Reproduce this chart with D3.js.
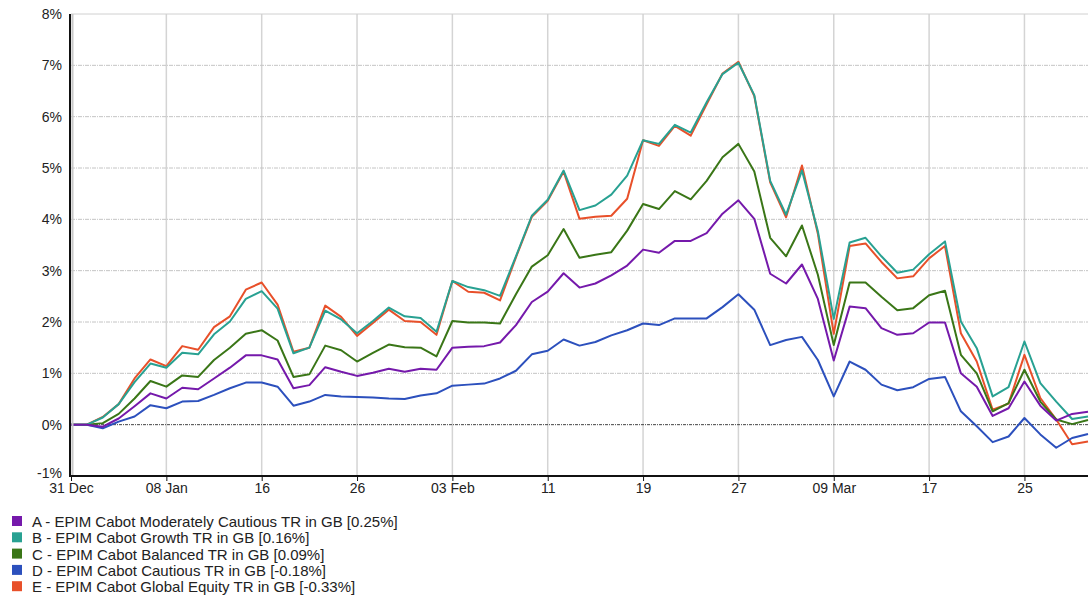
<!DOCTYPE html>
<html>
<head>
<meta charset="utf-8">
<script src="https://cdn.jsdelivr.net/npm/d3@7"></script>
<style>
	body { margin: 0; background: #fff; }
	svg { display: block; font-family: "Liberation Sans", Arial, sans-serif; }
	.tick-label { font-size: 14px; fill: #222; }
	.legend text { font-size: 15px; fill: #222; }
</style>
</head>
<body>
<svg width="1092" height="597"></svg>
<script>
// trading days, 31 Dec 2014 .. 31 Mar 2015
const dates = [
	'2014-12-31', '2015-01-01', '2015-01-02', '2015-01-05', '2015-01-06', '2015-01-07',
	'2015-01-08', '2015-01-09', '2015-01-12', '2015-01-13', '2015-01-14', '2015-01-15',
	'2015-01-16', '2015-01-19', '2015-01-20', '2015-01-21', '2015-01-22', '2015-01-23',
	'2015-01-26', '2015-01-27', '2015-01-28', '2015-01-29', '2015-01-30', '2015-02-02',
	'2015-02-03', '2015-02-04', '2015-02-05', '2015-02-06', '2015-02-09', '2015-02-10',
	'2015-02-11', '2015-02-12', '2015-02-13', '2015-02-16', '2015-02-17', '2015-02-18',
	'2015-02-19', '2015-02-20', '2015-02-23', '2015-02-24', '2015-02-25', '2015-02-26',
	'2015-02-27', '2015-03-02', '2015-03-03', '2015-03-04', '2015-03-05', '2015-03-06',
	'2015-03-09', '2015-03-10', '2015-03-11', '2015-03-12', '2015-03-13', '2015-03-16',
	'2015-03-17', '2015-03-18', '2015-03-19', '2015-03-20', '2015-03-23', '2015-03-24',
	'2015-03-25', '2015-03-26', '2015-03-27', '2015-03-30', '2015-03-31'
];

const xTickDates = ['2014-12-31', '2015-01-08', '2015-01-16', '2015-01-26', '2015-02-03', '2015-02-11',
	'2015-02-19', '2015-02-27', '2015-03-09', '2015-03-17', '2015-03-25'];
const xTickLabels = ['31 Dec', '08 Jan', '16', '26', '03 Feb', '11', '19', '27', '09 Mar', '17', '25'];
const yTicks = [-1, 0, 1, 2, 3, 4, 5, 6, 7, 8];

const seriesNames = [
	'A - EPIM Cabot Moderately Cautious TR in GB [0.25%]',
	'B - EPIM Cabot Growth TR in GB [0.16%]',
	'C - EPIM Cabot Balanced TR in GB [0.09%]',
	'D - EPIM Cabot Cautious TR in GB [-0.18%]',
	'E - EPIM Cabot Global Equity TR in GB [-0.33%]'
];
const seriesColors = ['#7519ab', '#28a192', '#3a7617', '#2c50bd', '#e8502a'];

const modCautious = [0, 0, -0.04, 0.12, 0.36, 0.61, 0.51, 0.72, 0.69, 0.90,
	1.11, 1.35, 1.35, 1.27, 0.71, 0.77, 1.12, 1.03, 0.95, 1.01,
	1.09, 1.03, 1.09, 1.07, 1.50, 1.52, 1.53, 1.60, 1.94, 2.39,
	2.59, 2.95, 2.67, 2.75, 2.91, 3.10, 3.41, 3.35, 3.58, 3.58,
	3.73, 4.11, 4.37, 4.01, 2.94, 2.75, 3.12, 2.45, 1.25, 2.30,
	2.27, 1.88, 1.75, 1.78, 1.99, 1.99, 1.00, 0.74, 0.17, 0.32,
	0.84, 0.37, 0.08, 0.21, 0.25];
const growth = [0, 0, 0.14, 0.40, 0.83, 1.19, 1.11, 1.40, 1.37, 1.76,
	2.01, 2.45, 2.60, 2.26, 1.39, 1.50, 2.22, 2.05, 1.78, 2.02,
	2.28, 2.11, 2.08, 1.81, 2.80, 2.68, 2.62, 2.51, 3.28, 4.07,
	4.38, 4.95, 4.18, 4.27, 4.48, 4.85, 5.54, 5.47, 5.84, 5.69,
	6.28, 6.83, 7.05, 6.42, 4.75, 4.09, 4.95, 3.77, 2.06, 3.55,
	3.64, 3.28, 2.96, 3.02, 3.32, 3.57, 2.01, 1.49, 0.55, 0.73,
	1.62, 0.81, 0.45, 0.11, 0.16];
const balanced = [0, 0, 0.03, 0.21, 0.51, 0.85, 0.74, 0.96, 0.93, 1.26,
	1.50, 1.77, 1.84, 1.64, 0.93, 0.98, 1.54, 1.45, 1.23, 1.40,
	1.56, 1.51, 1.50, 1.33, 2.02, 1.99, 1.99, 1.97, 2.54, 3.08,
	3.30, 3.81, 3.25, 3.31, 3.36, 3.78, 4.30, 4.20, 4.55, 4.39,
	4.75, 5.21, 5.47, 4.93, 3.64, 3.28, 3.88, 2.92, 1.55, 2.77,
	2.77, 2.49, 2.23, 2.27, 2.52, 2.61, 1.36, 1.00, 0.26, 0.42,
	1.07, 0.45, 0.10, 0.01, 0.09];
const cautious = [0, 0, -0.07, 0.06, 0.16, 0.38, 0.32, 0.45, 0.46, 0.58,
	0.71, 0.82, 0.82, 0.74, 0.37, 0.45, 0.58, 0.55, 0.54, 0.53,
	0.51, 0.50, 0.57, 0.61, 0.76, 0.78, 0.80, 0.90, 1.05, 1.37,
	1.44, 1.66, 1.54, 1.61, 1.74, 1.84, 1.97, 1.94, 2.07, 2.07,
	2.07, 2.29, 2.54, 2.24, 1.55, 1.65, 1.71, 1.26, 0.55, 1.23,
	1.07, 0.78, 0.67, 0.73, 0.89, 0.93, 0.26, -0.03, -0.34, -0.23,
	0.13, -0.19, -0.45, -0.26, -0.18];
const globalEquity = [0, 0, 0.15, 0.40, 0.90, 1.27, 1.14, 1.53, 1.46, 1.90,
	2.11, 2.63, 2.77, 2.34, 1.42, 1.50, 2.32, 2.10, 1.73, 1.98,
	2.24, 2.02, 2.00, 1.75, 2.80, 2.59, 2.57, 2.42, 3.26, 4.05,
	4.36, 4.93, 4.01, 4.05, 4.07, 4.40, 5.54, 5.43, 5.82, 5.63,
	6.24, 6.84, 7.07, 6.40, 4.72, 4.04, 5.05, 3.72, 1.77, 3.48,
	3.53, 3.17, 2.85, 2.89, 3.24, 3.48, 1.78, 1.23, 0.29, 0.41,
	1.36, 0.52, 0.10, -0.38, -0.33];

const seriesValues = [modCautious, growth, balanced, cautious, globalEquity];

const svg = d3.select('svg');
const margin = {top: 14, right: 4, bottom: 121, left: 71};
const width = 1092 - margin.left - margin.right;
const height = 597 - margin.top - margin.bottom;

const x = d3.scalePoint().domain(dates).range([0, width]);
const y = d3.scaleLinear().domain([-1, 8]).range([height, 0]);

const g = svg.append('g')
	.attr('transform', 'translate(' + margin.left + ',' + margin.top + ')');

// vertical grid at date ticks
g.append('g')
	.selectAll('line')
	.data(xTickDates.slice(1))
	.join('line')
	.attr('x1', d => x(d)).attr('x2', d => x(d))
	.attr('y1', 0).attr('y2', height)
	.attr('stroke', '#d4d4d4')
	.attr('stroke-width', 1.5);

// horizontal grid
g.append('g')
	.selectAll('line')
	.data(yTicks.filter(v => v > 0 && v < 8))
	.join('line')
	.attr('x1', 0).attr('x2', width)
	.attr('y1', d => y(d)).attr('y2', d => y(d))
	.attr('stroke', '#c4c4c4')
	.attr('stroke-dasharray', '4,1,1,1');

g.append('line')
	.attr('x1', 0).attr('x2', width)
	.attr('y1', y(8)).attr('y2', y(8))
	.attr('stroke', '#d0d0d0');

// zero line
g.append('line')
	.attr('x1', 0).attr('x2', width)
	.attr('y1', y(0)).attr('y2', y(0))
	.attr('stroke', '#444')
	.attr('stroke-dasharray', '3,1,1,1');

// series, E drawn first so A sits on top
const line = d3.line()
	.x((d, i) => x(dates[i]))
	.y(d => y(d));

const order = [4, 3, 2, 1, 0];
g.append('g')
	.selectAll('path')
	.data(order)
	.join('path')
	.attr('fill', 'none')
	.attr('stroke', k => seriesColors[k])
	.attr('stroke-width', 2)
	.attr('stroke-linejoin', 'round')
	.attr('d', k => line(seriesValues[k]));

// y axis
const yAxis = g.append('g')
	.call(d3.axisLeft(y).tickValues(yTicks).tickSize(0).tickPadding(9).tickFormat(d => d + '%'));
yAxis.select('.domain').remove();
yAxis.selectAll('text').attr('class', 'tick-label');
yAxis.selectAll('.tick').filter(d => d === -1).select('text').attr('dy', '0.1em');

g.append('line')
	.attr('x1', 1.5).attr('x2', 1.5)
	.attr('y1', 0).attr('y2', height)
	.attr('stroke', '#c8c8c8')
	.attr('stroke-width', 2);
g.append('line')
	.attr('x1', -1).attr('x2', -1)
	.attr('y1', 0).attr('y2', height + 1)
	.attr('stroke', '#111')
	.attr('stroke-width', 2);

// x axis
const xAxis = g.append('g')
	.attr('transform', 'translate(0,' + height + ')')
	.call(d3.axisBottom(x).tickValues(xTickDates).tickSize(5).tickPadding(2)
		.tickFormat(d => xTickLabels[xTickDates.indexOf(d)]));
xAxis.select('.domain').attr('stroke', '#111').attr('stroke-width', 2).attr('d', 'M-2,0H' + width);
xAxis.selectAll('.tick line').attr('stroke', '#111');
xAxis.selectAll('text').attr('class', 'tick-label');

// legend
const legend = svg.append('g')
	.attr('class', 'legend')
	.attr('transform', 'translate(12,516)');

const items = legend.selectAll('g')
	.data(seriesNames)
	.join('g')
	.attr('transform', (d, i) => 'translate(0,' + (i * 16.3) + ')');

items.append('rect')
	.attr('width', 10)
	.attr('height', 10)
	.attr('fill', (d, i) => seriesColors[i]);

items.append('text')
	.attr('x', 20)
	.attr('y', 11)
	.text(d => d);
</script>
</body>
</html>
